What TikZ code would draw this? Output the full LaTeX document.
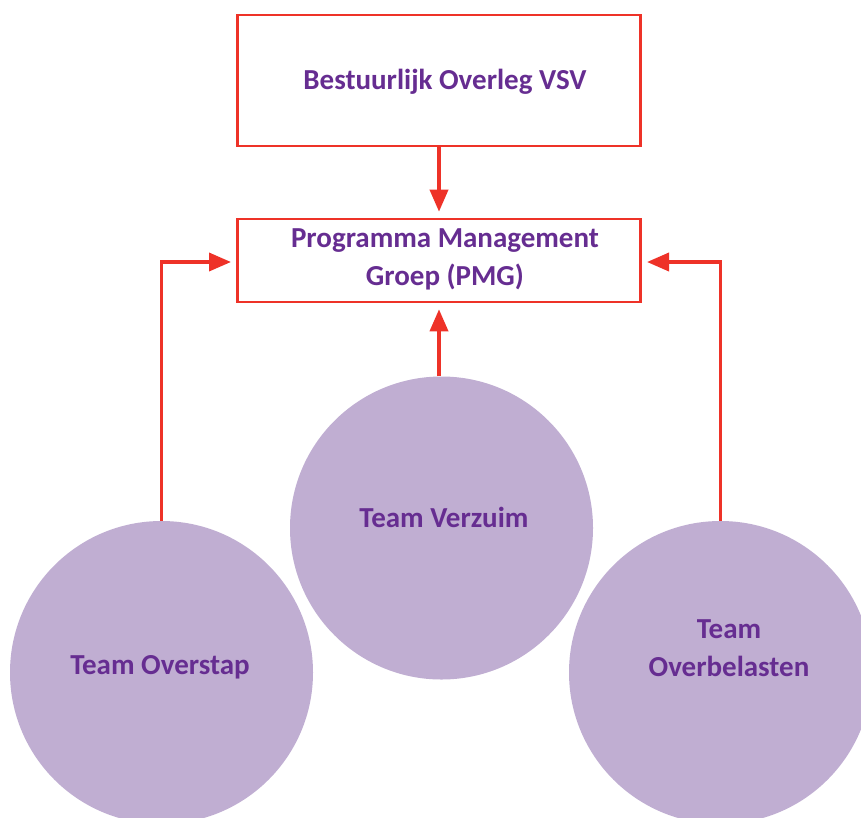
\documentclass[tikz,border=0pt]{standalone}
\usepackage{fontspec}
\setmainfont{Carlito}
\usetikzlibrary{arrows.meta}
\definecolor{boxred}{RGB}{238,50,40}
\definecolor{txtpurple}{RGB}{102,45,145}
\definecolor{circfill}{RGB}{192,174,210}
\tikzset{
  boxnode/.style={draw=boxred, line width=2.6pt, fill=white, minimum width=403pt, inner sep=0pt},
  teamcircle/.style={circle, fill=circfill, draw=none, minimum size=303pt, inner sep=0pt},
  lbl/.style={text=txtpurple, font=\fontsize{29}{38}\selectfont\bfseries, align=center},
  conn/.style={draw=boxred, line width=3.6pt, -{Triangle[length=22pt,width=18pt]}, shorten >=6pt}
}
\begin{document}
\begin{tikzpicture}[x=1pt,y=-1pt]
\useasboundingbox (0,0) rectangle (861,817);
\fill[white] (0,0) rectangle (861,817);
\node[boxnode, minimum height=131pt] (bo) at (439,80.5) {};
\node[lbl] (bot) at (445,82) {Bestuurlijk Overleg VSV};
\node[boxnode, minimum height=83pt] (pmg) at (439,260.5) {};
\node[lbl] (pmgt) at (445,259) {Programma Management\\Groep (PMG)};
\node[teamcircle] (cV) at (441.5,528) {};
\node[teamcircle] (cL) at (161.5,672.5) {};
\node[teamcircle] (cR) at (720.5,672.5) {};
\node[lbl] (tV) at (444,517) {Team Verzuim};
\node[lbl] (tL) at (160,667) {Team Overstap};
\node[lbl] (tR) at (729,648) {Team\\Overbelasten};
\coordinate (pmgL) at (237,262);
\coordinate (pmgR) at (641,262);
\draw[conn] (bo.south) -- (pmg.north);
\draw[conn] (cV.north -| pmg.south) -- (pmg.south);
\draw[conn] (cL.north) |- (pmgL);
\draw[conn] (cR.north) |- (pmgR);
\end{tikzpicture}
\end{document}
